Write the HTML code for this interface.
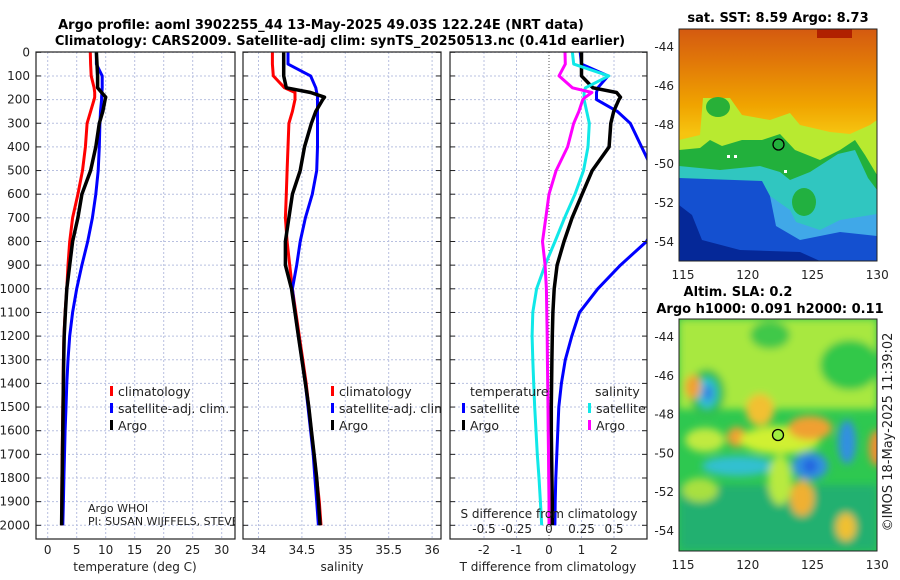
<!DOCTYPE html>
<html><head><meta charset="utf-8">
<style>
html,body{margin:0;padding:0;background:#fff;}
svg{display:block;font-family:"DejaVu Sans","Liberation Sans",sans-serif;}
</style></head>
<body>
<svg id="fig" width="900" height="580" viewBox="0 0 900 580" xmlns="http://www.w3.org/2000/svg">
<defs>
  <clipPath id="c1"><rect x="36" y="52" width="199" height="487"/></clipPath>
  <clipPath id="c2"><rect x="243" y="52" width="198" height="487"/></clipPath>
  <clipPath id="c3"><rect x="450" y="52" width="197" height="487"/></clipPath>
  <clipPath id="cm1"><rect x="679" y="29" width="198" height="232"/></clipPath>
  <clipPath id="cm2"><rect x="679" y="319" width="198" height="232"/></clipPath>
  <filter id="blur" x="-10%" y="-10%" width="120%" height="120%"><feGaussianBlur stdDeviation="4"/></filter>
  <linearGradient id="sstg" x1="0" y1="0" x2="0" y2="1">
    <stop offset="0" stop-color="#d45a10"/><stop offset="0.15" stop-color="#e27a08"/>
    <stop offset="0.33" stop-color="#f0a400"/><stop offset="0.45" stop-color="#f6c410"/><stop offset="1" stop-color="#f6c410"/>
  </linearGradient>
</defs>
<text x="321" y="29" text-anchor="middle" font-size="13" font-weight="bold">Argo profile: aoml 3902255_44 13-May-2025 49.03S 122.24E (NRT data)</text>
<text x="340" y="45" text-anchor="middle" font-size="13" font-weight="bold">Climatology: CARS2009. Satellite-adj clim: synTS_20250513.nc (0.41d earlier)</text>
<g id="grids"></g>
<g id="lines"></g>
<g id="frames"></g>
<g id="labels" font-size="12" fill="#222"></g>

<!-- SST map -->
<g clip-path="url(#cm1)">
  <rect x="679" y="29" width="198" height="232" fill="url(#sstg)"/>
  <rect x="817" y="29" width="35" height="9" fill="#b02000"/>
  <polygon fill="#b8ea30" points="679,140 700,135 703,98 730,98 742,115 770,120 790,113 800,125 830,132 850,134 870,125 877,120 877,261 679,261"/>
  <ellipse cx="718" cy="107" rx="12" ry="10" fill="#28b038"/>
  <polygon fill="#22b03c" points="679,150 700,148 710,140 722,146 742,140 762,140 780,134 795,150 820,160 840,150 855,140 865,155 877,175 877,261 679,261"/>
  <polygon fill="#30c6c0" points="679,166 720,170 760,166 780,172 790,180 810,172 838,154 855,150 868,178 877,190 877,261 679,261"/>
  <polygon fill="#40a8e8" points="679,186 740,190 770,196 790,210 796,222 820,230 840,220 877,214 877,261 679,261"/>
  <polygon fill="#1450d0" points="679,178 762,181 770,196 776,226 800,240 840,232 877,236 877,261 679,261"/>
  <polygon fill="#052898" points="679,205 692,215 702,240 740,250 800,252 820,261 679,261"/>
  <ellipse cx="804" cy="202" rx="12" ry="14" fill="#22b040"/>
  <rect x="727" y="155" width="3" height="3" fill="#fff"/><rect x="734" y="155" width="3" height="3" fill="#fff"/><rect x="784" y="170" width="3" height="3" fill="#fff"/>
  <circle cx="778.5" cy="144.5" r="5.5" fill="none" stroke="#000" stroke-width="1.3"/>
</g>
<rect x="679" y="29" width="198" height="232" fill="none" stroke="#222"/>
<text x="778" y="22" text-anchor="middle" font-size="13" font-weight="bold">sat. SST: 8.59 Argo: 8.73</text>

<!-- SLA map -->
<g clip-path="url(#cm2)">
  <rect x="679" y="319" width="198" height="232" fill="#2ec850"/>
  <g filter="url(#blur)">
    <rect x="679" y="319" width="198" height="90" fill="#a8e840"/>
    <ellipse cx="770" cy="335" rx="20" ry="14" fill="#40c848"/>
    <ellipse cx="850" cy="365" rx="30" ry="25" fill="#30c848"/>
    <ellipse cx="707" cy="393" rx="18" ry="24" fill="#30c050"/>
    <ellipse cx="707" cy="393" rx="10" ry="15" fill="#30c0d8"/>
    <ellipse cx="708" cy="393" rx="5" ry="8" fill="#3080e0"/>
    <ellipse cx="693" cy="387" rx="8" ry="12" fill="#f0a030"/>
    <ellipse cx="760" cy="410" rx="14" ry="16" fill="#f2c030"/>
    <ellipse cx="737" cy="437" rx="10" ry="10" fill="#f0a030"/>
    <ellipse cx="780" cy="440" rx="40" ry="14" fill="#d0f030"/>
    <ellipse cx="810" cy="428" rx="22" ry="12" fill="#f0a030"/>
    <ellipse cx="705" cy="440" rx="20" ry="12" fill="#c0ea40"/>
    <ellipse cx="738" cy="466" rx="36" ry="10" fill="#30c0d0"/>
    <ellipse cx="810" cy="466" rx="18" ry="14" fill="#3090e0"/>
    <ellipse cx="810" cy="466" rx="7" ry="7" fill="#2060e0"/>
    <ellipse cx="847" cy="442" rx="9" ry="22" fill="#3090e0"/>
    <ellipse cx="877" cy="448" rx="8" ry="18" fill="#f09030"/>
    <rect x="679" y="485" width="198" height="66" fill="#22b070"/>
    <ellipse cx="802" cy="498" rx="12" ry="18" fill="#f0b030"/>
    <ellipse cx="846" cy="527" rx="10" ry="14" fill="#f0c030"/>
    <ellipse cx="780" cy="480" rx="12" ry="25" fill="#b8ea40"/>
    <ellipse cx="700" cy="490" rx="18" ry="12" fill="#a8e040"/>
  </g>
  <circle cx="778" cy="435" r="5.5" fill="#a0ee40" stroke="#000" stroke-width="1.3"/>
</g>
<rect x="679" y="319" width="198" height="232" fill="none" stroke="#222"/>
<text x="738" y="296" text-anchor="middle" font-size="13" font-weight="bold">Altim. SLA: 0.2</text>
<text x="770" y="313" text-anchor="middle" font-size="13" font-weight="bold">Argo h1000: 0.091 h2000: 0.11</text>
<text transform="translate(892,432) rotate(-90)" text-anchor="middle" font-size="13" fill="#222">©IMOS 18-May-2025 11:39:02</text>
<g id="maplabels" font-size="12" fill="#222"></g>
</svg>
<script>
// ----- data -----
var depths = [0,50,100,150,170,190,200,250,300,400,500,600,700,800,900,1000,1100,1200,1300,1400,1500,1600,1700,1800,1900,2000];
var tempClim = [7.35,7.4,7.5,8.0,8.1,8.1,8.0,7.4,6.8,6.5,6.0,5.2,4.3,3.8,3.5,3.3,3.0,2.8,2.7,2.65,2.6,2.55,2.5,2.45,2.42,2.4];
var tempSat  = [8.4,8.4,9.4,9.4,9.35,9.3,9.3,9.1,9.0,8.9,8.7,8.3,7.7,6.9,5.9,5.0,4.3,3.8,3.5,3.3,3.15,3.0,2.9,2.8,2.7,2.6];
var tempArgo = [8.4,8.5,8.6,8.6,9.3,10.0,9.9,9.5,8.9,8.3,7.4,5.9,5.2,4.3,3.8,3.3,3.05,2.85,2.75,2.7,2.65,2.6,2.55,2.5,2.45,2.4];
var salClim  = [34.16,34.16,34.17,34.3,34.42,34.42,34.42,34.39,34.35,34.34,34.33,34.32,34.31,34.33,34.36,34.39,34.43,34.47,34.51,34.55,34.58,34.61,34.64,34.67,34.7,34.72];
var salSat   = [34.34,34.34,34.6,34.66,34.67,34.68,34.68,34.68,34.68,34.68,34.67,34.62,34.54,34.48,34.44,34.39,34.42,34.46,34.5,34.54,34.57,34.6,34.63,34.65,34.67,34.69];
var salArgo  = [34.29,34.29,34.29,34.32,34.6,34.76,34.74,34.66,34.61,34.53,34.48,34.39,34.35,34.31,34.31,34.38,34.42,34.46,34.5,34.54,34.58,34.61,34.64,34.67,34.69,34.71];
var dTempSat  = [0.96,1.0,1.82,1.5,1.46,1.46,1.46,2.1,2.5,2.85,3.2,3.4,3.4,3.0,2.2,1.5,0.94,0.7,0.5,0.38,0.3,0.27,0.24,0.21,0.19,0.18];
var dTempArgo = [1.0,1.0,1.0,1.35,2.08,2.2,2.15,1.99,1.9,1.85,1.33,1.02,0.71,0.46,0.25,0.16,0.12,0.1,0.09,0.08,0.07,0.07,0.08,0.09,0.1,0.1];
var dSalSat   = [0.18,0.19,0.46,0.28,0.27,0.27,0.27,0.29,0.31,0.3,0.265,0.2,0.12,0.046,-0.03,-0.095,-0.125,-0.13,-0.125,-0.118,-0.11,-0.1,-0.09,-0.077,-0.066,-0.056];
var dSalArgo  = [0.123,0.125,0.077,0.18,0.33,0.28,0.26,0.23,0.19,0.143,0.055,0.0,-0.025,-0.05,-0.03,-0.02,-0.017,-0.014,-0.012,-0.01,-0.008,-0.006,-0.004,-0.002,0.0,0.0];
var depthTicks = [0,100,200,300,400,500,600,700,800,900,1000,1100,1200,1300,1400,1500,1600,1700,1800,1900,2000];
var tempTicks = [0,5,10,15,20,25,30];
var salTicks = [34,34.5,35,35.5,36];
var dTempTicks = [-2,-1,0,1,2];
var dSalTickLabels = ["-0.5","-0.25","0","0.25","0.5"];
var dSalTicks = [-0.5,-0.25,0,0.25,0.5];
var lonTicks = [115,120,125,130];
var latTicks = [-44,-46,-48,-50,-52,-54];

// ----- axes -----
function yD(d){return 52.3 + d*0.2365;}
function xT(t){return 47.7 + 5.8*t;}
function xS(s){return 258.5 + 86.8*(s-34);}
function xDT(t){return 549 + 32.5*t;}
function xDS(s){return 549 + 130*s;}
function lonX(l){return 683 + 12.95*(l-115);}
function latY1(l){return 47 + 19.5*(-44-l);}
function latY2(l){return 337 + 19.4*(-44-l);}

var NS="http://www.w3.org/2000/svg";
function mk(tag, parent, attrs){var e=document.createElementNS(NS,tag);for(var k in attrs)e.setAttribute(k,attrs[k]);parent.appendChild(e);return e;}
var G=document.getElementById('grids'),L=document.getElementById('lines'),F=document.getElementById('frames'),T=document.getElementById('labels'),M=document.getElementById('maplabels');

var panels=[{x:36,w:199,clip:'c1',name:'temperature'},{x:243,w:198,clip:'c2',name:'salinity'},{x:450,w:197,clip:'c3',name:'difference'}];
panels.forEach(function(p){
  depthTicks.forEach(function(d){
    var l=mk('line',G,{x1:p.x,x2:p.x+p.w,y1:yD(d),y2:yD(d),stroke:'#b8c0e0','stroke-width':1,'stroke-dasharray':'2,2'});
    
    
    var t1=mk('line',F,{x1:p.x,x2:p.x+5,y1:yD(d),y2:yD(d),stroke:'#222','stroke-width':1});
    
    
    var t2=mk('line',F,{x1:p.x+p.w-5,x2:p.x+p.w,y1:yD(d),y2:yD(d),stroke:'#222','stroke-width':1});
    
    
  });
  var r=mk('rect',F,{x:p.x,y:52,width:p.w,height:487,fill:'none',stroke:'#222','stroke-width':1.2});
  
  
});
function vgrid(xs,fn,dash){xs.forEach(function(v){var l=mk('line',G,{x1:fn(v),x2:fn(v),y1:52,y2:539,stroke:dash?'#555':'#b8c0e0','stroke-width':1,'stroke-dasharray':dash?'1,2':'2,2'});
  
  });}
vgrid(tempTicks,xT);vgrid(salTicks,xS);vgrid([-2,-1,1,2],xDT);vgrid([0],xDT,true);

depthTicks.forEach(function(d){var t=mk('text',T,{x:30,y:yD(d)+4,'text-anchor':'end'});t.textContent=d;
  
  });
function xlabels(ticks,fn,labs,y){ticks.forEach(function(v,i){var t=mk('text',T,{x:fn(v),y:y,'text-anchor':'middle'});t.textContent=labs?labs[i]:v;
  
  });}
xlabels(tempTicks,xT,null,554);xlabels(salTicks,xS,null,554);xlabels(dTempTicks,xDT,null,554);
xlabels(dSalTicks,xDS,dSalTickLabels,533);

function lbl(x,y,txt,name,anchor){var t=mk('text',T,{x:x,y:y,'text-anchor':anchor||'start'});t.textContent=txt;
  
  return t;}
lbl(135,571,'temperature (deg C)','temperature-axis-title','middle');
lbl(342,571,'salinity','salinity-axis-title','middle');
lbl(548,571,'T difference from climatology','t-difference-axis-title','middle');
lbl(549,518,'S difference from climatology','s-difference-axis-title','middle');
lbl(88,512,'Argo WHOI','float-institution-note').setAttribute('font-size','11');
var pi=lbl(88,525,'PI: SUSAN WIJFFELS, STEVEN','float-pi-note');pi.setAttribute('font-size','11');pi.setAttribute('clip-path','url(#c1)');

function series(xs,fn,color,w,clip,name){
  var pts=depths.map(function(d,i){return fn(xs[i]).toFixed(1)+','+yD(d).toFixed(1);}).join(' ');
  var pl=mk('polyline',L,{points:pts,fill:'none',stroke:color,'stroke-width':w,'stroke-linejoin':'round','clip-path':'url(#'+clip+')'});
  
  
}
series(tempClim,xT,'#f00',3,'c1','temp-climatology-line');
series(tempSat,xT,'#00f',3,'c1','temp-satellite-line');
series(tempArgo,xT,'#000',3.5,'c1','temp-argo-line');
series(salClim,xS,'#f00',3,'c2','sal-climatology-line');
series(salSat,xS,'#00f',3,'c2','sal-satellite-line');
series(salArgo,xS,'#000',3.5,'c2','sal-argo-line');
series(dTempSat,xDT,'#00f',3,'c3','dtemp-satellite-line');
series(dTempArgo,xDT,'#000',3.5,'c3','dtemp-argo-line');
series(dSalSat,xDS,'#10e8e8',3,'c3','dsal-satellite-line');
series(dSalArgo,xDS,'#f0f',3,'c3','dsal-argo-line');

function legend(x,y,color,txt,name,clip){
  var m=mk('rect',L,{x:x,y:y-10,width:3,height:10,fill:color});
  
  
  var t=lbl(x+8,y,txt,name);t.setAttribute('font-size','12.5');if(clip)t.setAttribute('clip-path','url(#'+clip+')');
}
legend(110,396,'#f00','climatology','legend-temp-climatology');
legend(110,413,'#00f','satellite-adj. clim.','legend-temp-satellite','c1');
legend(110,430,'#000','Argo','legend-temp-argo');
legend(331,396,'#f00','climatology','legend-sal-climatology');
legend(331,413,'#00f','satellite-adj. clim.','legend-sal-satellite','c2');
legend(331,430,'#000','Argo','legend-sal-argo');
lbl(470,396,'temperature','legend-temperature-heading').setAttribute('font-size','12.5');
legend(462,413,'#00f','satellite','legend-dtemp-satellite');
legend(462,430,'#000','Argo','legend-dtemp-argo');
lbl(595,396,'salinity','legend-salinity-heading').setAttribute('font-size','12.5');
legend(588,413,'#10e8e8','satellite','legend-dsal-satellite','c3');
legend(588,430,'#f0f','Argo','legend-dsal-argo');

lonTicks.forEach(function(l){
  [279,569].forEach(function(y){var t=mk('text',M,{x:lonX(l),y:y,'text-anchor':'middle'});t.textContent=l;
    
    });
});
latTicks.forEach(function(l){
  var a=mk('text',M,{x:674,y:latY1(l)+4,'text-anchor':'end'});a.textContent=l;
  
  
  var b=mk('text',M,{x:674,y:latY2(l)+4,'text-anchor':'end'});b.textContent=l;
  
  
});
</script>
</body></html>
